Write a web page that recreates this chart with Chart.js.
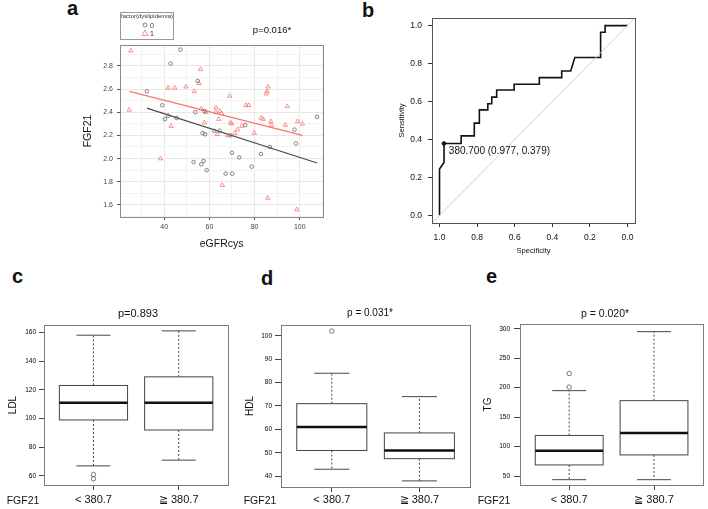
<!DOCTYPE html>
<html lang="en">
<head>
<meta charset="UTF-8" />
<title>FGF21 and lipids</title>
<script src="https://cdn.jsdelivr.net/npm/chart.js"></script>
<style>
  body {
    margin: 0;
    width: 708px;
    height: 509px;
    position: relative;
    overflow: hidden;
    background: #fff;
    font-family: 'Liberation Sans', Arial, sans-serif;
    color: #111;
  }
  .box { position: absolute; }
  .tag { position: absolute; font-size: 20px; font-weight: bold; line-height: 20px; }
  .txt { position: absolute; transform: translate(-50%, -50%); white-space: nowrap; line-height: 1; }
  .legend { position: absolute; left: 120px; top: 12px; width: 52px; height: 26px; border: 1px solid #999; }
</style>
</head>
<body>
  <!-- chart containers: sized so the plot areas land where the figure has them -->
  <div class="box" style="left:75px;top:33px;width:253px;height:220px"><canvas id="chartA"></canvas></div>
  <div class="box" style="left:392px;top:6px;width:248px;height:252px"><canvas id="chartB"></canvas></div>
  <div class="box" style="left:0px;top:313px;width:233px;height:196px"><canvas id="chartC"></canvas></div>
  <div class="box" style="left:236px;top:313px;width:239px;height:196px"><canvas id="chartD"></canvas></div>
  <div class="box" style="left:475px;top:312px;width:233px;height:197px"><canvas id="chartE"></canvas></div>

  <!-- panel letters and annotations -->
  <div class="tag" style="left:67px;top:-2px">a</div>
  <div class="tag" style="left:362px;top:0px">b</div>
  <div class="tag" style="left:12px;top:266px">c</div>
  <div class="tag" style="left:261px;top:268px">d</div>
  <div class="tag" style="left:486px;top:266px">e</div>

  <div class="txt" style="left:272px;top:30px;font-size:9.5px">p=0.016*</div>
  <div class="txt" style="left:138px;top:313px;font-size:11px">p=0.893</div>
  <div class="txt" style="left:370px;top:313px;font-size:10px">p = 0.031*</div>
  <div class="txt" style="left:605px;top:313px;font-size:10.5px">p = 0.020*</div>
  <div class="txt" style="left:23px;top:500px;font-size:10.5px">FGF21</div>
  <div class="txt" style="left:260px;top:500px;font-size:10.5px">FGF21</div>
  <div class="txt" style="left:494px;top:500px;font-size:10.5px">FGF21</div>

  <div class="legend">
    <div class="txt" style="left:26px;top:3px;font-size:6px;color:#333">factor(dyslipidemia)</div>
    <svg style="position:absolute;left:21px;top:9px" width="6" height="6"><circle cx="3" cy="3" r="2" fill="none" stroke="#666" stroke-width="0.8"/></svg>
    <div class="txt" style="left:31px;top:12px;font-size:7px;color:#333">0</div>
    <svg style="position:absolute;left:20px;top:16px" width="8" height="8"><polygon points="4,1 7,6.5 1,6.5" fill="none" stroke="#F8766D" stroke-width="0.8"/></svg>
    <div class="txt" style="left:31px;top:20px;font-size:7px;color:#333">1</div>
  </div>

<script>
// ---- panel a: FGF21 (log) vs eGFRcys, by dyslipidemia ----
const egfrNoDys = [32.3, 39.1, 40.3, 41.7, 42.8, 47.2, 45.5, 54.8, 53.8, 57.8, 57.0, 58.1, 53.0, 56.4, 57.4,
                   58.8, 62.2, 64.5, 67.2, 70.1, 70.0, 73.2, 69.3, 75.9, 78.7, 82.8, 86.8, 97.7, 98.3, 107.7];
const fgfNoDys  = [2.58, 2.46, 2.34, 2.37, 2.82, 2.94, 2.35, 2.67, 2.40, 2.41, 2.22, 2.21, 1.97, 1.95, 1.98,
                   1.90, 2.24, 2.24, 1.87, 1.87, 2.05, 2.01, 2.20, 2.29, 1.93, 2.04, 2.10, 2.25, 2.13, 2.36];
const egfrDys = [25.2, 24.5, 38.3, 41.7, 43.0, 44.6, 49.6, 53.3, 55.4, 56.1, 56.4, 57.8, 58.4, 62.9, 62.8,
                 63.5, 64.1, 64.6, 65.4, 65.7, 69.0, 69.3, 69.9, 68.1, 71.3, 72.5, 74.3, 76.2, 77.4, 79.9,
                 82.9, 83.8, 85.2, 85.5, 85.9, 85.8, 87.2, 87.5, 93.6, 94.5, 98.7, 99.0, 101.2];
const fgfDys  = [2.93, 2.42, 2.00, 2.61, 2.28, 2.61, 2.62, 2.58, 2.65, 2.77, 2.43, 2.31, 2.40, 2.44, 2.40,
                 2.21, 2.34, 2.41, 2.39, 1.77, 2.54, 2.31, 2.30, 2.20, 2.22, 2.25, 2.28, 2.46, 2.46, 2.22,
                 2.35, 2.34, 2.56, 2.58, 2.62, 1.66, 2.32, 2.29, 2.29, 2.45, 1.56, 2.32, 2.30];
// fitted lines (end points)
const fitNoDysX = [32.3, 107.7];
const fitNoDysY = [2.435, 1.962];
const fitDysX = [24.5, 101.2];
const fitDysY = [2.58, 2.20];
const aXGrid = [30, 40, 50, 60, 70, 80, 90, 100, 110];
const aXLabels = [40, 60, 80, 100];
const aYGrid = [1.5, 1.6, 1.7, 1.8, 1.9, 2.0, 2.1, 2.2, 2.3, 2.4, 2.5, 2.6, 2.7, 2.8, 2.9];
const aYLabels = [1.6, 1.8, 2.0, 2.2, 2.4, 2.6, 2.8];

// ---- panel b: ROC curve ----
const rocSpec = [1, 1, 0.976, 0.976, 0.885, 0.885, 0.815, 0.815, 0.788, 0.788, 0.743, 0.743, 0.722, 0.722, 0.696,
                 0.696, 0.603, 0.603, 0.469, 0.469, 0.35, 0.35, 0.302, 0.28, 0.143, 0.143, 0.119, 0.119, 0];
const rocSens = [0, 0.244, 0.279, 0.379, 0.379, 0.419, 0.419, 0.486, 0.486, 0.556, 0.556, 0.588, 0.588, 0.623, 0.623,
                 0.661, 0.661, 0.691, 0.691, 0.726, 0.726, 0.761, 0.761, 0.832, 0.832, 0.965, 0.965, 1, 1];
const chanceSpec = [1.04, -0.04];
const chanceSens = [-0.04, 1.04];
const bestCut = 380.7, bestSpec = 0.977, bestSens = 0.379;
const rocTicks = [0, 0.2, 0.4, 0.6, 0.8, 1.0];

// ---- panels c-e: box plots, [low whisker, Q1, median, Q3, high whisker] ----
const groups = ['< 380.7', '\u2267 380.7'];
const ldlBox = [[67, 99, 111, 123, 158], [71, 92, 111, 129, 161]];
const ldlOut = [[61, 58], []];
const ldlTicks = [60, 80, 100, 120, 140, 160];
const hdlBox = [[43, 51, 61, 71, 84], [38, 47.5, 51, 58.5, 74]];
const hdlOut = [[102], []];
const hdlTicks = [40, 50, 60, 70, 80, 90, 100];
const tgBox = [[44, 69, 93, 119, 195], [44, 86, 123, 178, 295]];
const tgOut = [[224, 201], []];
const tgTicks = [50, 100, 150, 200, 250, 300];

Chart.defaults.font.family = "'Liberation Sans', Arial, sans-serif";
Chart.defaults.color = '#111';
Chart.defaults.animation = false;
Chart.defaults.plugins.legend.display = false;
Chart.defaults.plugins.tooltip.enabled = false;

const isOn = (list, v) => list.some(t => Math.abs(t - v) < 1e-6);
const ticksAt = list => s => { s.ticks = list.map(v => ({ value: v })); };
const pts = (xs, ys) => xs.map((x, i) => ({ x: x, y: ys[i] }));

// box around plot area
function framePlugin(color) {
  return {
    id: 'frame',
    afterDraw(chart) {
      const { left, top, right, bottom } = chart.chartArea;
      const c = chart.ctx;
      c.save();
      c.strokeStyle = color;
      c.lineWidth = 1;
      c.strokeRect(Math.round(left) + 0.5, Math.round(top) + 0.5, Math.round(right - left), Math.round(bottom - top));
      c.restore();
    }
  };
}

// R style box plot drawn through the chart's scales
function boxPlugin(stats) {
  return {
    id: 'boxPlot',
    beforeDatasetsDraw(chart) {
      const x = chart.scales.x, y = chart.scales.y, c = chart.ctx;
      c.save();
      stats.forEach((s, i) => {
        const cx = x.getPixelForValue(i + 1);
        const hw = x.getPixelForValue(i + 1.4) - cx;
        const [lo, q1, med, q3, hi] = s.map(v => y.getPixelForValue(v));
        c.strokeStyle = '#444';
        c.lineWidth = 1;
        c.setLineDash([2, 2]);
        c.beginPath();
        c.moveTo(cx, q3); c.lineTo(cx, hi);
        c.moveTo(cx, q1); c.lineTo(cx, lo);
        c.stroke();
        c.setLineDash([]);
        c.beginPath();
        c.moveTo(cx - hw / 2, hi); c.lineTo(cx + hw / 2, hi);
        c.moveTo(cx - hw / 2, lo); c.lineTo(cx + hw / 2, lo);
        c.stroke();
        c.fillStyle = '#fff';
        c.fillRect(cx - hw, q3, 2 * hw, q1 - q3);
        c.strokeRect(cx - hw, q3, 2 * hw, q1 - q3);
        c.strokeStyle = '#111';
        c.lineWidth = 2.5;
        c.beginPath();
        c.moveTo(cx - hw, med); c.lineTo(cx + hw, med);
        c.stroke();
      });
      c.restore();
    }
  };
}

// panel a
new Chart(document.getElementById('chartA'), {
  type: 'scatter',
  data: {
    datasets: [
      { data: pts(egfrNoDys, fgfNoDys), pointStyle: 'circle', pointRadius: 1.8,
        borderColor: '#666', backgroundColor: 'rgba(0,0,0,0)', borderWidth: 0.8 },
      { data: pts(egfrDys, fgfDys), pointStyle: 'triangle', pointRadius: 2.5,
        borderColor: '#F8766D', backgroundColor: 'rgba(0,0,0,0)', borderWidth: 0.8 },
      { data: pts(fitNoDysX, fitNoDysY), showLine: true, pointRadius: 0, borderColor: '#4a4a4a', borderWidth: 1.2 },
      { data: pts(fitDysX, fitDysY), showLine: true, pointRadius: 0, borderColor: '#F8766D', borderWidth: 1.2 }
    ]
  },
  options: {
    responsive: true,
    maintainAspectRatio: false,
    layout: { padding: { top: 12, right: 3, bottom: 0, left: 0 } },
    scales: {
      x: {
        min: 20.4, max: 110.4,
        afterBuildTicks: ticksAt(aXGrid),
        afterFit: s => { s.height = 36; },
        border: { display: false },
        grid: {
          color: ctx => isOn(aXLabels, ctx.tick.value) ? '#e8e8e8' : '#f3f3f3',
          tickColor: ctx => isOn(aXLabels, ctx.tick.value) ? '#555' : 'rgba(0,0,0,0)',
          tickLength: 3
        },
        ticks: { padding: 3, color: '#444', font: { size: 7 }, maxRotation: 0, autoSkip: false,
                 callback: v => isOn(aXLabels, v) ? String(v) : '' },
        title: { display: true, text: 'eGFRcys', font: { size: 10.5 }, color: '#111', padding: { top: 0, bottom: 2.7 } }
      },
      y: {
        min: 1.496, max: 2.98,
        afterBuildTicks: ticksAt(aYGrid),
        afterFit: s => { s.width = 45; },
        border: { display: false },
        grid: {
          color: ctx => isOn(aYLabels, ctx.tick.value) ? '#e8e8e8' : '#f3f3f3',
          tickColor: ctx => isOn(aYLabels, ctx.tick.value) ? '#555' : 'rgba(0,0,0,0)',
          tickLength: 3
        },
        ticks: { padding: 4, color: '#444', font: { size: 7 }, autoSkip: false,
                 callback: v => isOn(aYLabels, v) ? v.toFixed(1) : '' },
        title: { display: true, text: 'FGF21', font: { size: 10.5 }, color: '#111', padding: { top: 6.7, bottom: 0 } }
      }
    }
  },
  plugins: [framePlugin('#8a8a8a')]
});

// panel b
new Chart(document.getElementById('chartB'), {
  type: 'scatter',
  data: {
    datasets: [
      { data: pts(chanceSpec, chanceSens), showLine: true, pointRadius: 0, borderColor: '#cfcfcf', borderWidth: 1 },
      { data: pts(rocSpec, rocSens), showLine: true, pointRadius: 0, borderColor: '#111', borderWidth: 1.6 },
      { data: pts([bestSpec], [bestSens]), pointRadius: 1.8, backgroundColor: '#111', borderColor: '#111' }
    ]
  },
  options: {
    responsive: true,
    maintainAspectRatio: false,
    layout: { padding: { top: 12, right: 2, bottom: 0, left: 0 } },
    scales: {
      x: {
        min: -0.04, max: 1.04, reverse: true,
        afterBuildTicks: ticksAt(rocTicks),
        afterFit: s => { s.height = 35; },
        border: { display: false },
        grid: { drawOnChartArea: false, tickLength: 4, tickColor: '#333' },
        ticks: { padding: 5.6, font: { size: 8.5 }, maxRotation: 0, autoSkip: false, callback: v => v.toFixed(1) },
        title: { display: true, text: 'Specificity', font: { size: 7.6 }, padding: { top: 0, bottom: 2.7 } }
      },
      y: {
        min: -0.04, max: 1.04,
        afterBuildTicks: ticksAt(rocTicks),
        afterFit: s => { s.width = 40; },
        border: { display: false },
        grid: { drawOnChartArea: false, tickLength: 4, tickColor: '#333' },
        ticks: { padding: 6, font: { size: 8.5 }, autoSkip: false, callback: v => v.toFixed(1) },
        title: { display: true, text: 'Sensitivity', font: { size: 7.6 }, padding: { top: 5.1, bottom: 0 } }
      }
    }
  },
  plugins: [framePlugin('#555'), {
    id: 'bestLabel',
    afterDatasetsDraw(chart) {
      const p = chart.getDatasetMeta(2).data[0];
      const c = chart.ctx;
      c.save();
      c.font = "10px 'Liberation Sans', Arial, sans-serif";
      c.fillStyle = '#111';
      c.textAlign = 'left';
      c.textBaseline = 'middle';
      c.fillText(bestCut.toFixed(3) + ' (' + bestSpec.toFixed(3) + ', ' + bestSens.toFixed(3) + ')', p.x + 5, p.y + 8);
      c.restore();
    }
  }]
});

// panels c-e
function boxPanel(id, stats, outliers, yMin, yMax, yTicks, yTitle, lay) {
  const outPts = [];
  outliers.forEach((vals, i) => vals.forEach(v => outPts.push({ x: i + 1, y: v })));
  return new Chart(document.getElementById(id), {
    type: 'scatter',
    data: {
      datasets: [{ data: outPts, pointStyle: 'circle', pointRadius: 2.2, borderColor: '#555',
                   backgroundColor: 'rgba(0,0,0,0)', borderWidth: 0.8 }]
    },
    options: {
      responsive: true,
      maintainAspectRatio: false,
      layout: { padding: { top: 12, right: lay.padRight, bottom: 0, left: 0 } },
      scales: {
        x: {
          min: 0.42, max: 2.58,
          afterBuildTicks: ticksAt(groups.map((g, i) => i + 1)),
          afterFit: s => { s.height = lay.xHeight; },
          border: { display: false },
          grid: { drawOnChartArea: false, tickLength: 5, tickColor: '#444' },
          ticks: { padding: lay.xPad, font: { size: 11 }, maxRotation: 0, autoSkip: false,
                   callback: v => groups[Math.round(v) - 1] }
        },
        y: {
          min: yMin, max: yMax,
          afterBuildTicks: ticksAt(yTicks),
          afterFit: s => { s.width = lay.yWidth; },
          border: { display: false },
          grid: { drawOnChartArea: false, tickLength: lay.yTick, tickColor: '#444' },
          ticks: { padding: lay.yPad, color: '#000', font: { size: 6.5 }, autoSkip: false },
          title: { display: true, text: yTitle, font: { size: 10 }, padding: { top: lay.titlePad, bottom: 0 } }
        }
      }
    },
    plugins: [framePlugin('#7a7a7a'), boxPlugin(stats)]
  });
}

boxPanel('chartC', ldlBox, ldlOut, 53.7, 165.1, ldlTicks, 'LDL',
  { padRight: 2, xHeight: 24, xPad: 3.4, yWidth: 44, yTick: 5, yPad: 3, titlePad: 7 });
boxPanel('chartD', hdlBox, hdlOut, 35.4, 104.6, hdlTicks, 'HDL',
  { padRight: 2.5, xHeight: 22, xPad: 1.4, yWidth: 45, yTick: 6, yPad: 3, titlePad: 8 });
boxPanel('chartE', tgBox, tgOut, 35, 308, tgTicks, 'TG',
  { padRight: 1.5, xHeight: 24, xPad: 3.4, yWidth: 45, yTick: 6, yPad: 4, titlePad: 7 });
</script>
</body>
</html>
